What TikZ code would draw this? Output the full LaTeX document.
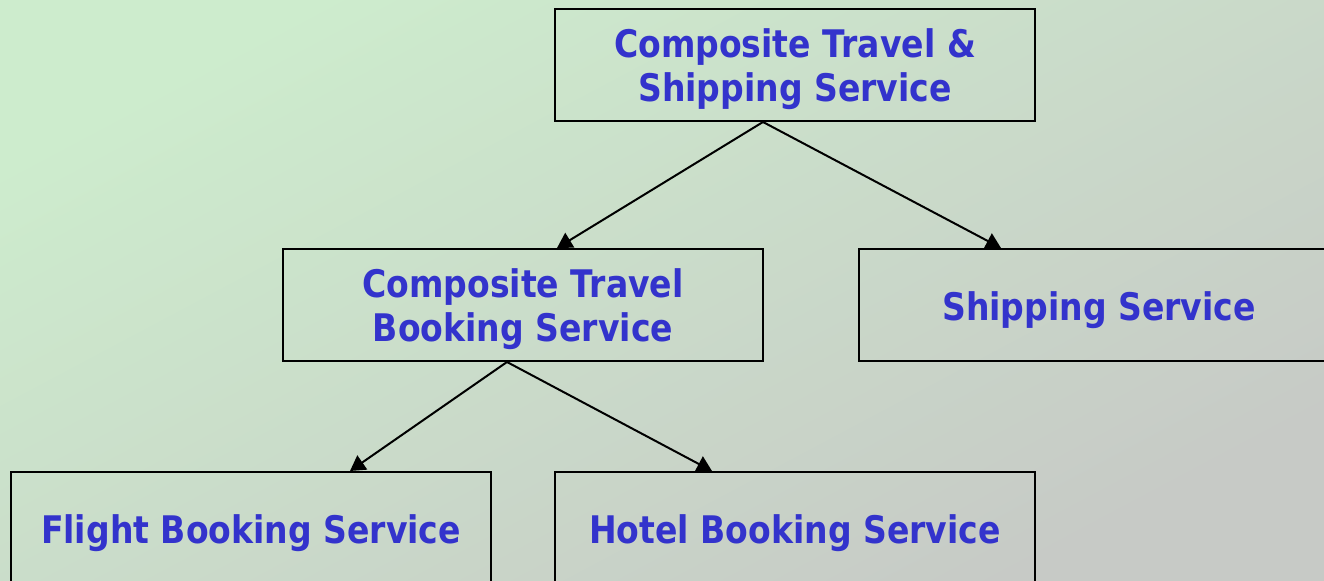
\documentclass[tikz,border=0pt]{standalone}
\usepackage{fontspec}
\setmainfont[FakeStretch=0.87]{DejaVu Sans}
\usepackage{tikz}
\usetikzlibrary{positioning,arrows.meta}
\definecolor{svcblue}{RGB}{51,51,204}
\definecolor{bgtop}{RGB}{205,236,205}
\definecolor{bgmid}{RGB}{201,214,203}
\definecolor{bgbot}{RGB}{199,202,198}
\newcommand{\lift}[1]{\rule{0pt}{#1}}
\tikzset{main node/.style={rectangle, draw, line width=1pt, minimum width=240pt, minimum height=56pt, inner sep=0pt, align=center, text=svcblue, font=\fontsize{19pt}{22pt}\selectfont\bfseries},
         link/.style={draw, line width=1pt, -{Triangle[length=7.5pt,width=8.5pt]}},}

\begin{document}
\begin{tikzpicture}
        % Background
        \fill[top color=bgtop, middle color=bgmid, bottom color=bgbot, shading angle=28] (0,0) rectangle (662pt,-290.5pt);
        \useasboundingbox (0,0) rectangle (662pt,-290.5pt);
        % Nodes
        \node[main node] (1) at (397.5pt,-32.5pt) {\lift{18.5pt}Composite Travel \&\\Shipping Service};
        \node[main node] [below = 63pt of 1, xshift=-136pt] (2) {\lift{18.5pt}Composite Travel\\Booking Service};
        \node[main node] [right = 47pt of 2] (3) {\lift{20pt}Shipping Service};
        \node[main node] [below = 54.5pt of 2, xshift=-136pt] (4) {\lift{20pt}Flight Booking Service};
        \node[main node] [right = 31pt of 4] (5) {\lift{20pt}Hotel Booking Service};
        % Paths
        \path
        ([xshift=-16pt]1.south) edge[link] ([xshift=17pt]2.north)
        ([xshift=-16pt]1.south) edge[link] ([xshift=-49pt]3.north)
        ([xshift=-8pt]2.south) edge[link] ([xshift=49.5pt]4.north)
        ([xshift=-8pt]2.south) edge[link] ([xshift=-41.5pt]5.north);
    \end{tikzpicture}
\end{document}
